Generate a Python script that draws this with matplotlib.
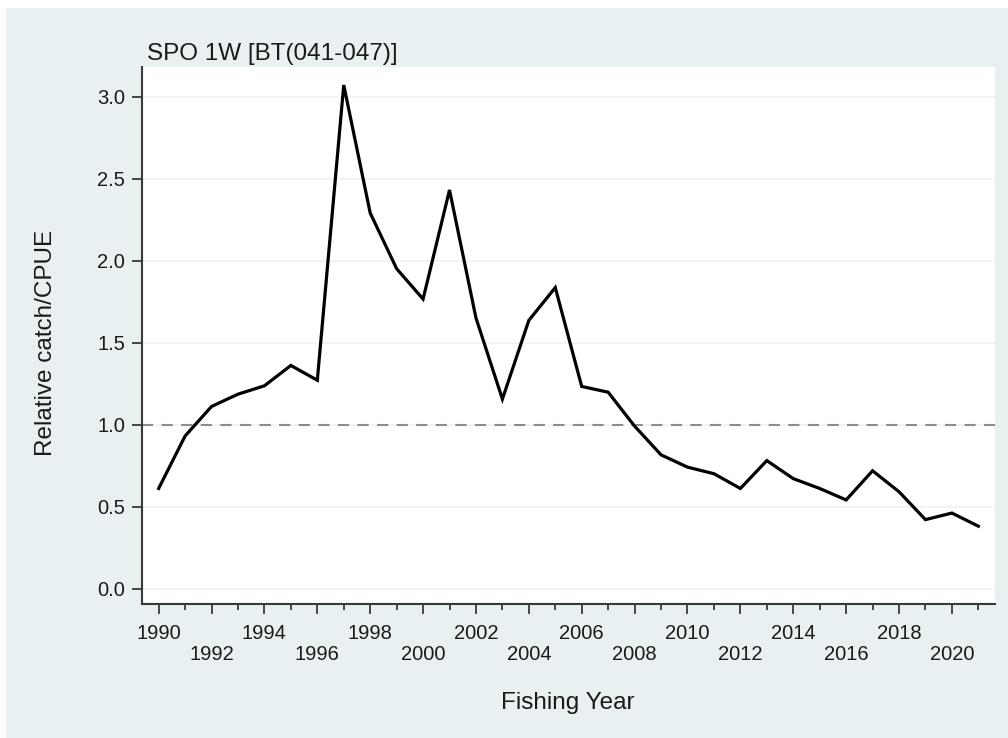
#!/usr/bin/env python3
"""Relative catch/CPUE index for SPO 1W [BT(041-047)] by fishing year."""

import matplotlib

matplotlib.use("Agg")
import matplotlib.pyplot as plt
from matplotlib.patches import Rectangle
from matplotlib.ticker import FixedLocator, MultipleLocator

plt.rcParams["font.family"] = ["Liberation Sans", "DejaVu Sans"]

TITLE = "SPO 1W [BT(041-047)]"
X_LABEL = "Fishing Year"
Y_LABEL = "Relative catch/CPUE"

YEARS = [
    1990, 1991, 1992, 1993, 1994, 1995, 1996, 1997, 1998, 1999, 2000,
    2001, 2002, 2003, 2004, 2005, 2006, 2007, 2008, 2009, 2010, 2011,
    2012, 2013, 2014, 2015, 2016, 2017, 2018, 2019, 2020, 2021,
]
INDEX = [
    0.61, 0.93, 1.11, 1.185, 1.236, 1.36, 1.27, 3.07, 2.29, 1.95, 1.765,
    2.43, 1.65, 1.155, 1.635, 1.835, 1.232, 1.197, 0.99, 0.815, 0.74, 0.70,
    0.61, 0.78, 0.67, 0.61, 0.54, 0.718, 0.59, 0.42, 0.46, 0.38,
]
REFERENCE_LEVEL = 1.0
Y_TICKS = [0.0, 0.5, 1.0, 1.5, 2.0, 2.5, 3.0]
X_TICKS = list(range(1990, 2021, 2))

REGION_COLOR = "#E9F0F2"
TEXT_COLOR = "#1a1a1a"
AXIS_COLOR = "#3a3a3a"
W, H = 1008, 738

TICK_FONT_SIZE = 14.5
LABEL_FONT_SIZE = 17.5


def main() -> None:
    fig = plt.figure(figsize=(W / 100, H / 100), dpi=100, facecolor="white")
    # graph region (light bluish grey) inside a thin white margin
    fig.patches.append(
        Rectangle((6 / W, 0), 1 - 6 / W, 1 - 8 / H, transform=fig.transFigure,
                  facecolor=REGION_COLOR, edgecolor="none", zorder=-10)
    )

    left, right, top, bottom = 142, 995, 67, 604
    ax = fig.add_axes([left / W, 1 - bottom / H, (right - left) / W, (bottom - top) / H])
    ax.set_zorder(1)
    ax.set_facecolor("white")

    ax.plot(YEARS, INDEX, color="black", linewidth=2.3, solid_joinstyle="miter", zorder=3)
    ax.axhline(REFERENCE_LEVEL, color="#8c8c8c", linewidth=1.5,
               linestyle=(0, (5.4, 4)), zorder=2)

    ax.set_xlim(1989.37, 2021.63)
    ax.set_ylim(-0.0945, 3.18)

    ax.yaxis.set_major_locator(FixedLocator(Y_TICKS))
    ax.set_yticklabels([f"{v:.1f}" for v in Y_TICKS])
    ax.xaxis.set_major_locator(FixedLocator(X_TICKS))
    ax.xaxis.set_minor_locator(MultipleLocator(1))
    ax.set_xticklabels([])

    # staggered year labels, two rows
    for i, year in enumerate(X_TICKS):
        drop = 25.2 if i % 2 == 0 else 40.3
        ax.annotate(str(year), xy=(year, 0), xycoords=("data", "axes fraction"),
                    xytext=(0, -drop), textcoords="offset points",
                    ha="center", va="baseline", fontsize=TICK_FONT_SIZE,
                    color=TEXT_COLOR, annotation_clip=False)

    for y in Y_TICKS:
        ax.axhline(y, color="#f1f1f1", linewidth=1.2, zorder=1)

    for side in ("top", "right"):
        ax.spines[side].set_visible(False)
    for side in ("left", "bottom"):
        ax.spines[side].set_color(AXIS_COLOR)
        ax.spines[side].set_linewidth(1.5)

    ax.tick_params(axis="both", which="major", direction="out", length=7, width=1.3,
                   color=AXIS_COLOR, labelsize=TICK_FONT_SIZE, labelcolor=TEXT_COLOR, pad=5)
    ax.tick_params(axis="x", which="minor", direction="out", length=4.5, width=1.3,
                   color=AXIS_COLOR)

    ax.set_xlabel(X_LABEL, fontsize=LABEL_FONT_SIZE, color=TEXT_COLOR)
    ax.xaxis.set_label_coords(0.499, (bottom - 709.3) / (bottom - top))
    ax.xaxis.label.set_va("baseline")

    ax.set_ylabel(Y_LABEL, fontsize=LABEL_FONT_SIZE, color=TEXT_COLOR)
    ax.yaxis.set_label_coords((46.5 - left) / (right - left), (bottom - 343) / (bottom - top))
    ax.yaxis.label.set_va("center")
    ax.yaxis.label.set_ha("center")

    fig.text(147 / W, 1 - 60 / H, TITLE, fontsize=LABEL_FONT_SIZE, color=TEXT_COLOR,
             va="baseline", ha="left")

    fig.savefig("out.png", dpi=100, facecolor=fig.get_facecolor())
    plt.close(fig)


if __name__ == "__main__":
    main()
